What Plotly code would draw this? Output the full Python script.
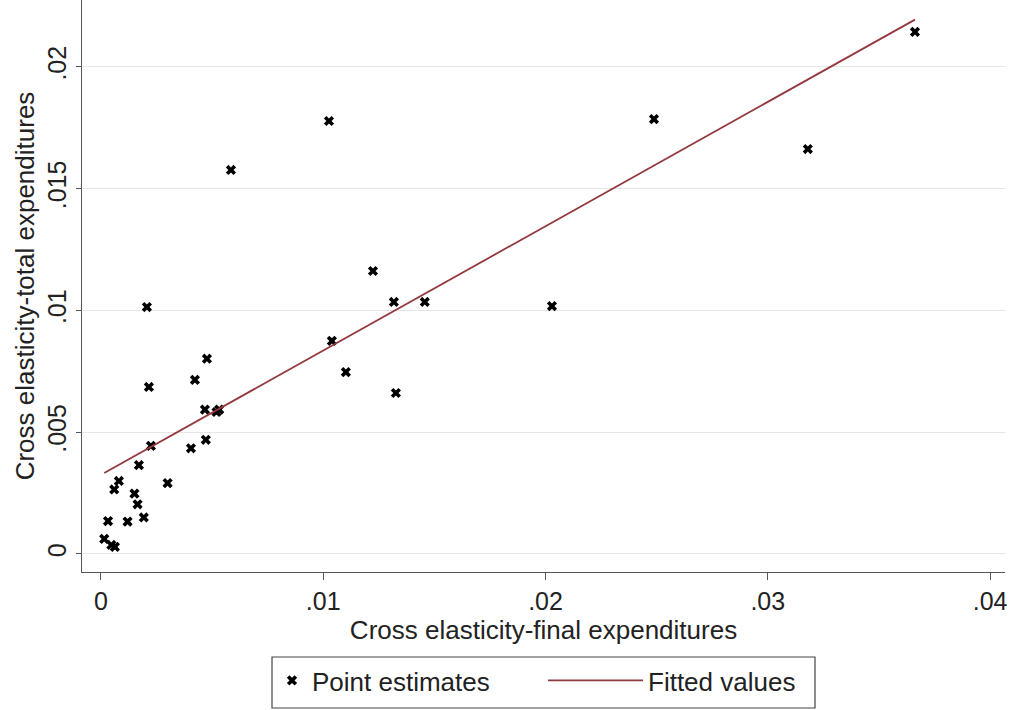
import plotly.graph_objects as go

# Point estimates
x_final = [0.03662, 0.03180, 0.02488, 0.02029, 0.01026, 0.00585, 0.01224, 0.01318,
           0.01457, 0.01039, 0.01102, 0.01327, 0.00207, 0.00216, 0.00477, 0.00423,
           0.00468, 0.00520, 0.00532, 0.00472, 0.00405, 0.00225, 0.00300, 0.00171,
           0.00151, 0.00165, 0.00193, 0.00120, 0.00081, 0.00060, 0.00032, 0.00015,
           0.00047, 0.00063]
y_total = [0.02144, 0.01663, 0.01786, 0.01018, 0.01778, 0.01577, 0.01162, 0.01035,
           0.01035, 0.00875, 0.00747, 0.00661, 0.01014, 0.00686, 0.00802, 0.00715,
           0.00593, 0.00583, 0.00593, 0.00469, 0.00434, 0.00444, 0.00291, 0.00365,
           0.00248, 0.00204, 0.00150, 0.00133, 0.00300, 0.00265, 0.00135, 0.00062,
           0.00037, 0.00029]

# Fitted line (intercept / slope)
fit_intercept = 0.00325
fit_slope = 0.5105
fit_x = [min(x_final), max(x_final)]
fit_y = [fit_intercept + fit_slope * v for v in fit_x]

x_ticks = [0, 0.01, 0.02, 0.03, 0.04]
x_tick_labels = ["0", ".01", ".02", ".03", ".04"]
y_ticks = [0, 0.005, 0.01, 0.015, 0.02]
y_tick_labels = ["0", ".005", ".01", ".015", ".02"]

font_family = "Liberation Sans, Arial, sans-serif"
axis_color = "#555555"

W, H = 1017, 710
ML, MR, MT, MB = 82, 12, 0, 138
PW, PH = W - ML - MR, H - MT - MB


def px_x(p):
    return (p - ML) / PW


def px_y(p):
    return (H - MB - p) / PH


fig = go.Figure()
fig.add_trace(go.Scatter(
    x=x_final, y=y_total, mode="markers", name="Point estimates",
    marker=dict(symbol="x", size=9, color="black", line=dict(width=0)),
    legend="legend",
))
fig.add_trace(go.Scatter(
    x=fit_x, y=fit_y, mode="lines", name="Fitted values",
    line=dict(color="#93393f", width=1.8),
    legend="legend2",
))

legend_common = dict(
    orientation="h", yanchor="top", xanchor="left",
    borderwidth=0, bgcolor="rgba(0,0,0,0)",
    font=dict(size=26, color="#222222"),
)

fig.update_layout(
    width=W, height=H,
    margin=dict(l=ML, r=MR, t=MT, b=MB),
    paper_bgcolor="white", plot_bgcolor="white",
    font=dict(family=font_family, color="#222222", size=25),
    showlegend=True,
    legend=dict(**legend_common, x=px_x(272), y=px_y(657), itemwidth=30),
    legend2=dict(**legend_common, x=px_x(543), y=px_y(657), itemwidth=95),
    shapes=[dict(
        type="rect", xref="paper", yref="paper",
        x0=px_x(272), x1=px_x(815), y0=px_y(708), y1=px_y(657),
        line=dict(color="#444444", width=1.2), fillcolor="rgba(0,0,0,0)",
    )],
    xaxis=dict(
        range=[-0.00085, 0.04067], automargin=False,
        tickvals=x_ticks, ticktext=x_tick_labels,
        showgrid=False, zeroline=False,
        showline=True, linecolor=axis_color, linewidth=1.2,
        ticks="outside", ticklen=7, tickcolor=axis_color,
        tickfont=dict(size=25),
        title=dict(text="Cross elasticity-final expenditures", font=dict(size=26), standoff=0),
    ),
    yaxis=dict(
        range=[-0.00074, 0.02275], automargin=False,
        tickvals=y_ticks, ticktext=y_tick_labels, tickangle=-90,
        showgrid=True, gridcolor="#e6e6e6", gridwidth=1,
        zeroline=False,
        showline=True, linecolor=axis_color, linewidth=1.2,
        ticks="outside", ticklen=5, tickcolor=axis_color,
        tickfont=dict(size=25),
        title=dict(text="Cross elasticity-total expenditures", font=dict(size=26), standoff=0),
    ),
)

fig.write_html(
    "out.html",
    config={"displayModeBar": False},
    post_script="document.body.style.margin='0';document.body.style.overflow='hidden';",
)
